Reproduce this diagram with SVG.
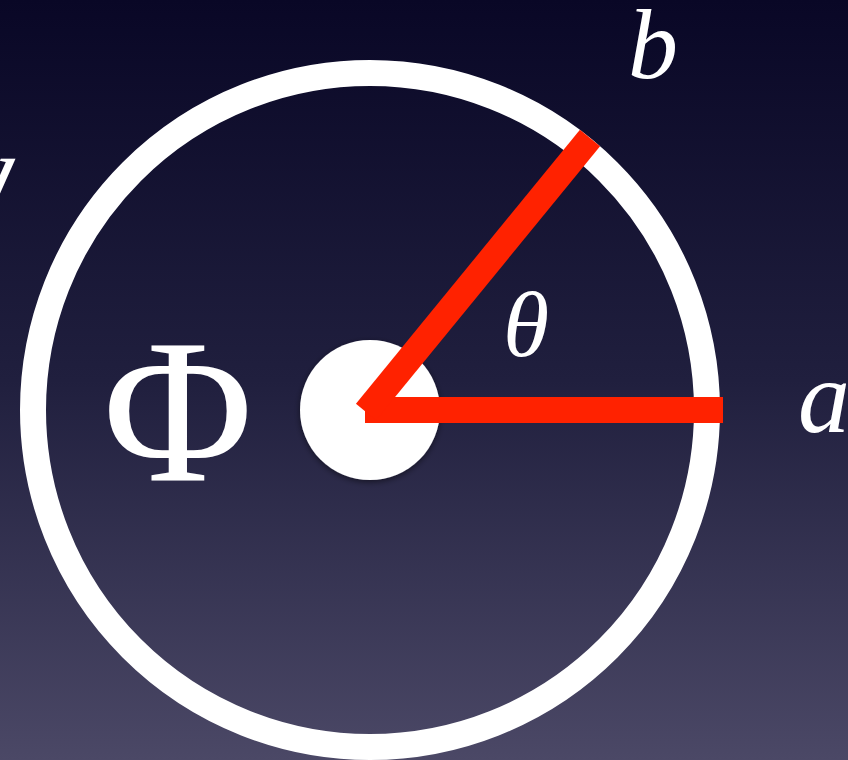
<svg xmlns="http://www.w3.org/2000/svg" width="848" height="760" viewBox="0 0 848 760">
<defs>
<linearGradient id="bg" x1="0" y1="0" x2="0" y2="1">
<stop offset="0" stop-color="#090726"/>
<stop offset="0.5" stop-color="#201f3e"/>
<stop offset="1" stop-color="#4b4866"/>
</linearGradient>
<filter id="sh" x="-30%" y="-30%" width="160%" height="160%">
<feGaussianBlur in="SourceAlpha" stdDeviation="3"/>
<feOffset dx="0" dy="2"/>
<feComponentTransfer><feFuncA type="linear" slope="0.5"/></feComponentTransfer>
<feMerge><feMergeNode/><feMergeNode in="SourceGraphic"/></feMerge>
</filter>
</defs>
<style>
.lbl{font-family:"Liberation Serif","Times New Roman",serif;font-style:italic;fill:#ffffff}
.ring{fill:none;stroke:#ffffff;stroke-width:26}
.red{stroke:#ff2200;stroke-width:26;fill:none}
</style>
<rect width="848" height="760" fill="url(#bg)"/>
<g id="ring"><circle class="ring" cx="370" cy="410" r="337"/></g>
<g id="hub"><circle cx="370" cy="410" r="70" fill="#ffffff" filter="url(#sh)"/></g>
<g id="connectors">
<line class="red" x1="365" y1="410" x2="723" y2="410"/>
<line class="red" x1="366" y1="412" x2="590" y2="138"/>
</g>
<g id="label-phi"><text x="178" y="480" font-family="Liberation Serif, Times New Roman, serif" font-size="205" fill="#ffffff" text-anchor="middle">Φ</text></g>
<g id="label-theta"><text class="lbl" x="503" y="356" font-size="94">θ</text></g>
<g id="label-a"><text class="lbl" x="798" y="432" font-size="104">a</text></g>
<g id="label-b"><text class="lbl" x="628" y="78" font-size="100">b</text></g>
<g id="label-left" transform="translate(0,180) skewX(-15) translate(0,-180)"><text class="lbl" x="-16" y="228" font-size="100">l</text></g>
</svg>
